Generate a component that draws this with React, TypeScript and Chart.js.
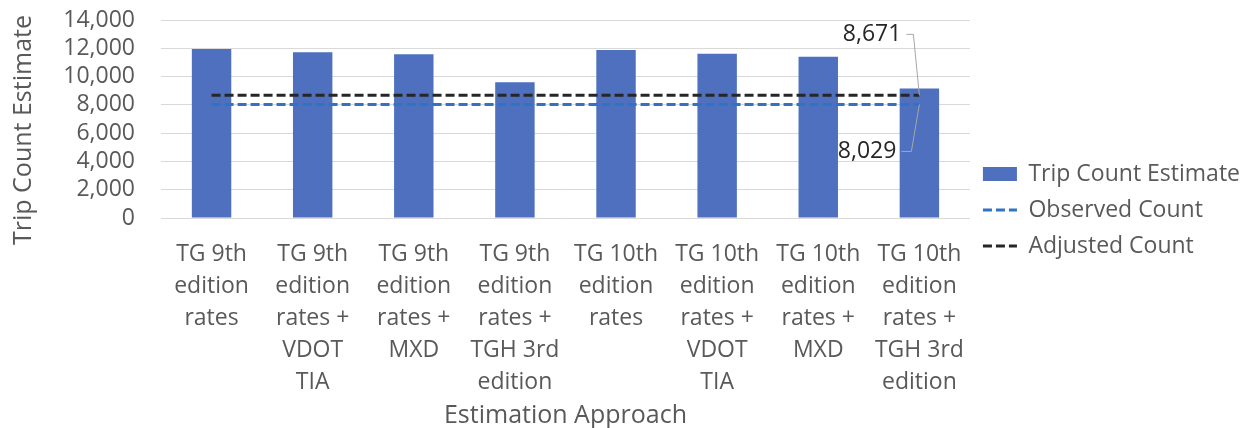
import React, { useEffect, useRef } from "react";
import { Chart, registerables } from "chart.js";

Chart.register(...registerables);

const categories: string[][] = [
  ["TG 9th", "edition", "rates"],
  ["TG 9th", "edition", "rates +", "VDOT", "TIA"],
  ["TG 9th", "edition", "rates +", "MXD"],
  ["TG 9th", "edition", "rates +", "TGH 3rd", "edition"],
  ["TG 10th", "edition", "rates"],
  ["TG 10th", "edition", "rates +", "VDOT", "TIA"],
  ["TG 10th", "edition", "rates +", "MXD"],
  ["TG 10th", "edition", "rates +", "TGH 3rd", "edition"],
];

const tripCountEstimate: number[] = [11950, 11720, 11580, 9600, 11880, 11620, 11410, 9150];
const observedCount: number[] = [8029, 8029, 8029, 8029, 8029, 8029, 8029, 8029];
const adjustedCount: number[] = [8671, 8671, 8671, 8671, 8671, 8671, 8671, 8671];

const yMin = 0;
const yMax = 14000;
const yStep = 2000;

const yTitle = "Trip Count Estimate";
const xTitle = "Estimation Approach";

const FONT = "'Open Sans', 'Noto Sans', sans-serif";
const GREY_TEXT = "#595959";

const endLabelPlugin = {
  id: "endLabels",
  afterDatasetsDraw(chart: any) {
    const ctx = chart.ctx;
    const cfgs = [
      { ds: 2, dx: -18, dy: -61, kneeDx: -6 },
      { ds: 1, dx: -23, dy: 47, kneeDx: -8 },
    ];
    ctx.save();
    ctx.font = `23px ${FONT}`;
    ctx.fillStyle = "#262626";
    ctx.textAlign = "right";
    ctx.textBaseline = "middle";
    for (const c of cfgs) {
      const meta = chart.getDatasetMeta(c.ds);
      const data = chart.data.datasets[c.ds].data as number[];
      const last = meta.data[meta.data.length - 1];
      if (!last) continue;
      const px = last.x;
      const py = last.y;
      const value = data[data.length - 1];
      const tx = px + c.dx;
      const ty = py + c.dy;
      ctx.fillText(value.toLocaleString("en-US"), tx, ty);
      ctx.beginPath();
      ctx.strokeStyle = "#a6a6a6";
      ctx.lineWidth = 1;
      ctx.moveTo(tx + 5, ty);
      ctx.lineTo(px + c.kneeDx, ty);
      ctx.lineTo(px, py);
      ctx.stroke();
    }
    ctx.restore();
  },
};

const yTitlePlugin = {
  id: "yTitle",
  afterDraw(chart: any) {
    const ctx = chart.ctx;
    const area = chart.chartArea;
    ctx.save();
    ctx.translate(24, (area.top + area.bottom) / 2 + 11);
    ctx.rotate(-Math.PI / 2);
    ctx.font = `25px ${FONT}`;
    ctx.fillStyle = GREY_TEXT;
    ctx.textAlign = "center";
    ctx.textBaseline = "middle";
    ctx.fillText(yTitle, 0, 0);
    ctx.restore();
  },
};

const legendShiftPlugin = {
  id: "legendShift",
  afterLayout(chart: any) {
    const l = chart.legend;
    if (l) {
      l.top -= 14;
      l.bottom -= 14;
    }
  },
};

export default function App() {
  const canvasRef = useRef<HTMLCanvasElement | null>(null);

  useEffect(() => {
    document.body.style.margin = "0";
    const canvas = canvasRef.current;
    if (!canvas) return;
    const chart = new Chart(canvas, {
      type: "bar",
      data: {
        labels: categories,
        datasets: [
          {
            type: "bar",
            label: "Trip Count Estimate",
            data: tripCountEstimate,
            backgroundColor: "#4E70BE",
            borderWidth: 0,
            barPercentage: 0.39,
            categoryPercentage: 1,
            order: 3,
          },
          {
            type: "line",
            label: "Observed Count",
            data: observedCount,
            borderColor: "#3072C4",
            backgroundColor: "#3072C4",
            borderWidth: 3,
            borderDash: [9, 4],
            pointRadius: 0,
            fill: false,
            order: 2,
          },
          {
            type: "line",
            label: "Adjusted Count",
            data: adjustedCount,
            borderColor: "#262626",
            backgroundColor: "#262626",
            borderWidth: 3,
            borderDash: [9, 4],
            pointRadius: 0,
            fill: false,
            order: 1,
          },
        ] as any,
      },
      options: {
        animation: false,
        responsive: false,
        maintainAspectRatio: false,
        layout: { padding: { top: 20, right: 0, bottom: 0, left: 0 } },
        plugins: {
          tooltip: { enabled: false },
          legend: {
            position: "right",
            align: "center",
            labels: {
              usePointStyle: true,
              pointStyleWidth: 34,
              boxHeight: 14,
              padding: 13,
              color: GREY_TEXT,
              font: { family: FONT, size: 23 },
              generateLabels: (ch: any) =>
                ch.data.datasets.map((ds: any, i: number) => ({
                  text: ds.label,
                  fillStyle: ds.backgroundColor,
                  strokeStyle: ds.borderColor,
                  lineWidth: ds.type === "line" ? 3 : 0,
                  lineDash: ds.type === "line" ? ds.borderDash : [],
                  pointStyle: ds.type === "line" ? "line" : "rect",
                  hidden: false,
                  datasetIndex: i,
                  fontColor: GREY_TEXT,
                })),
            },
          },
        },
        scales: {
          x: {
            grid: { display: false },
            border: { display: false },
            ticks: {
              color: GREY_TEXT,
              font: { family: FONT, size: 23, lineHeight: 32 / 23 },
              padding: 12,
              maxRotation: 0,
              autoSkip: false,
            },
            title: {
              display: true,
              text: xTitle,
              color: GREY_TEXT,
              font: { family: FONT, size: 25, lineHeight: 1.2 },
              padding: { top: 0, bottom: -3 },
            },
            afterFit: (scale: any) => {
              scale.height = 210;
            },
          },
          y: {
            min: yMin,
            max: yMax,
            grid: { color: "#d9d9d9", lineWidth: 1, drawTicks: false },
            border: { display: false },
            ticks: {
              stepSize: yStep,
              autoSkip: false,
              color: GREY_TEXT,
              font: { family: FONT, size: 23 },
              padding: 26,
              callback: (v: any) => Number(v).toLocaleString("en-US"),
            },
            title: { display: false },
            afterFit: (scale: any) => {
              scale.width = 161;
              scale.paddingTop = 0;
              scale.paddingBottom = 0;
            },
          },
        },
      } as any,
      plugins: [endLabelPlugin, yTitlePlugin, legendShiftPlugin],
    });
    return () => chart.destroy();
  }, []);

  return (
    <div style={{ width: 1250, height: 428 }}>
      <canvas ref={canvasRef} width={1250} height={428} style={{ display: "block", width: 1250, height: 428 }} />
    </div>
  );
}
